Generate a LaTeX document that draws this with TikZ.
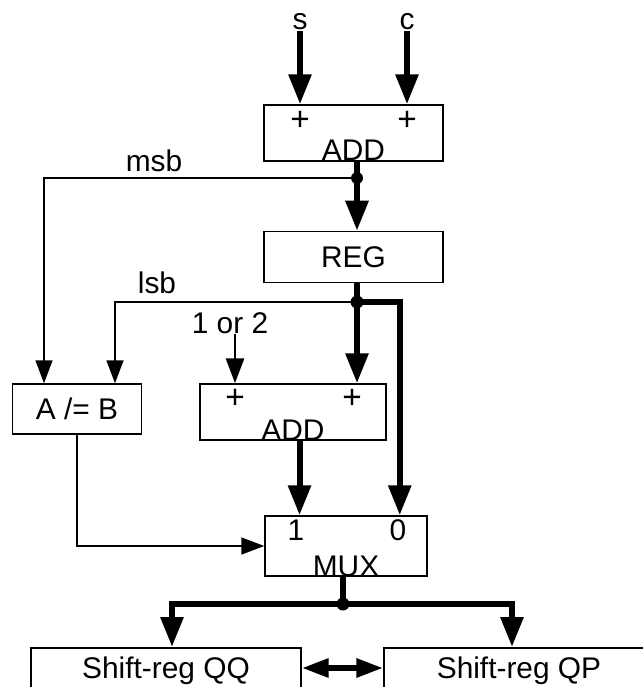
\documentclass[tikz,border=0pt]{standalone}
\usepackage{fontspec}
\setmainfont{Liberation Sans}
\usetikzlibrary{positioning,arrows.meta}
\tikzset{
  blk/.style={draw,line width=0.85pt,inner sep=0pt},
  lbl/.style={inner sep=0pt,font=\fontsize{17}{20}\selectfont},
  plus/.style={inner sep=0pt,font=\fontsize{19}{20}\selectfont},
  wire/.style={line width=3.4pt},
  bus/.style={line width=3.4pt,-{Triangle[width=0.44cm,length=0.6cm]}},
  sig/.style={line width=0.85pt,-{Triangle[width=0.34cm,length=0.46cm]}},
  cst/.style={line width=1.7pt,-{Triangle[width=0.36cm,length=0.5cm]}},
  dbl/.style={line width=3.4pt,{Triangle[width=0.36cm,length=0.54cm]}-{Triangle[width=0.36cm,length=0.54cm]}},
  dot/.style={fill}
}

\begin{document}
\begin{tikzpicture}[x=0.02cm,y=-0.02cm,font=\fontsize{17}{20}\selectfont]
\useasboundingbox (0,0) rectangle (643,687);

\node[blk,minimum width=3.58cm,text height=1.12cm,text depth=0pt] (add1) at (353.5,133) {ADD};
\node[blk,minimum width=3.58cm,minimum height=1.02cm,below=1.38cm of add1] (reg) {REG};
\node[blk,minimum width=2.58cm,minimum height=1.0cm] (neq) at (77,409) {A /= B};
\node[blk,minimum width=3.72cm,text height=1.12cm,text depth=0pt] (add2) at (293,412) {ADD};
\node[blk,minimum width=3.24cm,text height=1.2cm,text depth=0pt] (mux) at (346,546) {MUX};
\node[blk,minimum width=5.4cm,text height=0.62cm,text depth=0.88cm,anchor=north] (qq) at (166,647) {Shift-reg QQ};
\node[blk,minimum width=5.4cm,text height=0.62cm,text depth=0.88cm,anchor=north] (qp) at (519,647) {Shift-reg QP};

\node[lbl] (s) at (300,22) {s};
\node[lbl] (c) at (407,22) {c};
\node[plus] (p1) at (300,121) {+};
\node[plus] (p2) at (407,121) {+};
\node[plus] (p3) at (235,399) {+};
\node[plus] (p4) at (352,399) {+};
\node[lbl] (msb) at (154,161) {msb};
\node[lbl] (lsb) at (157,283) {lsb};
\node[lbl] (two) at (230,323) {1 or 2};
\node[lbl] (in1) at (296,530) {1};
\node[lbl] (in0) at (398,530) {0};

\coordinate (jm) at (357,178);
\coordinate (jl) at (357,302);
\coordinate (jb) at (343,604);

\draw[bus] (s.south) -- (s.south |- add1.north);
\draw[bus] (c.south) -- (c.south |- add1.north);

% msb split
\draw[wire] (add1.south -| jm) -- (jm);
\draw[bus] (jm) -- (jm |- reg.north);
\draw[sig] (jm) -| ([xshift=-0.66cm]neq.north);

% lsb split
\draw[wire] (reg.south -| jl) -- (jl);
\draw[bus] (jl) -- (jl |- add2.north);
\draw[sig] (jl) -| ([xshift=0.76cm]neq.north);
\draw[bus] (jl) -| ([xshift=1pt]in0 |- mux.north);

\draw[cst] (p3 |- two.south) -- (p3 |- add2.north);
\draw[bus] ([xshift=2pt]in1 |- add2.south) -- ([xshift=2pt]in1 |- mux.north);
\draw[sig] (neq.south) |- (mux.west);

\draw[wire] (mux.south -| jb) -- (jb);
\draw[bus] (jb) -| ([xshift=0.12cm]qq.north);
\draw[bus] (jb) -| ([xshift=-0.14cm]qp.north);
\draw[dbl] ([yshift=-0.42cm]qq.north east) -- ([yshift=-0.42cm]qp.north west);

\fill[dot] (jm) circle (0.12cm);
\fill[dot] (jl) circle (0.13cm);
\fill[dot] (jb) circle (0.13cm);
\end{tikzpicture}
\end{document}
